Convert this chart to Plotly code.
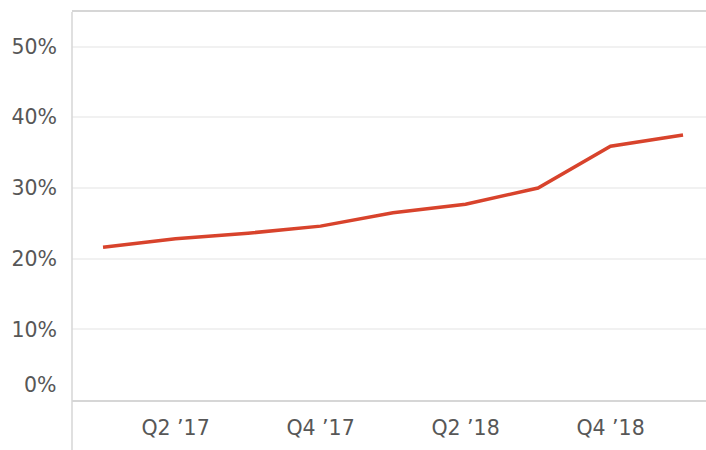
import plotly.graph_objects as go

quarters = ["Q1 \u201917", "Q2 \u201917", "Q3 \u201917", "Q4 \u201917",
            "Q1 \u201918", "Q2 \u201918", "Q3 \u201918", "Q4 \u201918", "Q1 \u201919"]
values = [21.6, 22.8, 23.6, 24.6, 26.5, 27.7, 30.0, 35.9, 37.5]
tick_labels = ["Q2 \u201917", "Q4 \u201917", "Q2 \u201918", "Q4 \u201918"]
y_ticks = [10, 20, 30, 40, 50]
y_tick_text = ["10%", "20%", "30%", "40%", "50%"]

font_family = "DejaVu Sans"
font_size = 20.5
grey = "#575757"

fig = go.Figure()
fig.add_trace(go.Scatter(
    x=list(range(len(quarters))), y=values, mode="lines",
    line=dict(color="#d8432c", width=3.5),
    hoverinfo="skip", showlegend=False,
))

fig.update_layout(
    width=706, height=450,
    margin=dict(l=72, r=0, t=12, b=50),
    paper_bgcolor="white", plot_bgcolor="white",
    font=dict(family=font_family, size=font_size, color=grey),
    xaxis=dict(
        range=[-0.428, 8.317],
        tickvals=[quarters.index(t) for t in tick_labels],
        ticktext=tick_labels,
        showgrid=False, zeroline=False,
        showline=True, linecolor="#d6d6d6", linewidth=1.5, mirror=True,
        ticks="", ticklabelstandoff=9,
    ),
    yaxis=dict(
        range=[0, 54.9],
        tickvals=y_ticks, ticktext=y_tick_text,
        showgrid=True, gridcolor="#f1f1f1", gridwidth=1.5,
        zeroline=False, showline=False, ticks="", ticklabelstandoff=14,
    ),
)

fig.add_shape(type="line", xref="paper", yref="paper",
              x0=0, x1=0, y0=-50 / 388, y1=1,
              line=dict(color="#d6d6d6", width=1.5))

fig.add_annotation(x=0, y=0, xref="paper", yref="y", text="0%",
                   showarrow=False, xanchor="right", yanchor="middle",
                   xshift=-13, yshift=15,
                   font=dict(family=font_family, size=font_size, color=grey))

fig.write_html("out.html")
